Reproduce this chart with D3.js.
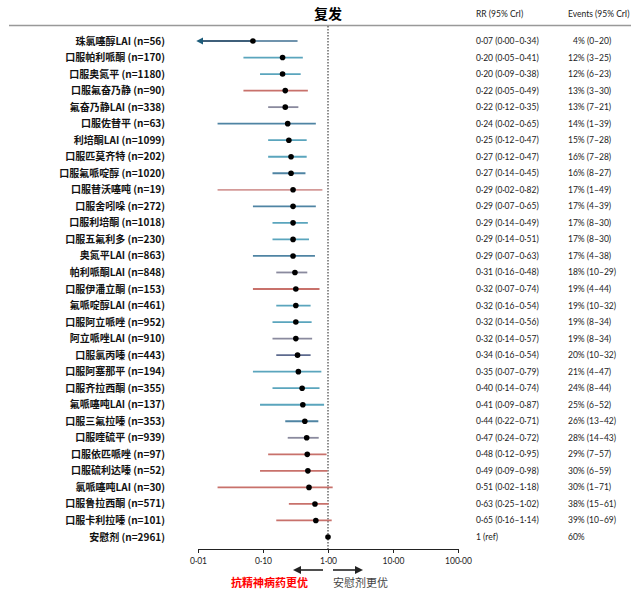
<!DOCTYPE html>
<html><head><meta charset="utf-8">
<script src="https://cdn.jsdelivr.net/npm/d3@7"></script>
<style>body{margin:0;background:#fff}</style>
</head><body>
<svg id="c" width="641" height="594"></svg>
<script>
const drugs = ["珠氯噻醇LAI","口服帕利哌酮","口服奥氮平","口服氟奋乃静","氟奋乃静LAI","口服佐替平","利培酮LAI","口服匹莫齐特","口服氟哌啶醇","口服替沃噻吨","口服舍吲哚","口服利培酮","口服五氟利多","奥氮平LAI","帕利哌酮LAI","口服伊潘立酮","氟哌啶醇LAI","口服阿立哌唑","阿立哌唑LAI","口服氯丙嗪","口服阿塞那平","口服齐拉西酮","氟哌噻吨LAI","口服三氟拉嗪","口服喹硫平","口服依匹哌唑","口服硫利达嗪","氯哌噻吨LAI","口服鲁拉西酮","口服卡利拉嗪","安慰剂"];
const nVals = [56,170,1180,90,338,63,1099,202,1020,19,272,1018,230,863,848,153,461,952,910,443,194,355,137,353,939,97,52,30,571,101,2961];
const rr   = [0.07,0.20,0.20,0.22,0.22,0.24,0.25,0.27,0.27,0.29,0.29,0.29,0.29,0.29,0.31,0.32,0.32,0.32,0.32,0.34,0.35,0.40,0.41,0.44,0.47,0.48,0.49,0.51,0.63,0.65,1];
const rrLo = [0.00,0.05,0.09,0.05,0.12,0.02,0.12,0.12,0.14,0.02,0.07,0.14,0.14,0.07,0.16,0.07,0.16,0.14,0.14,0.16,0.07,0.14,0.09,0.22,0.24,0.12,0.09,0.02,0.25,0.16,null];
const rrHi = [0.34,0.41,0.38,0.49,0.35,0.65,0.47,0.47,0.45,0.82,0.65,0.49,0.51,0.63,0.48,0.74,0.54,0.56,0.57,0.54,0.79,0.74,0.87,0.71,0.72,0.95,0.98,1.18,1.02,1.14,null];
const evt   = [4,12,12,13,13,14,15,16,16,17,17,17,17,17,18,19,19,19,19,20,21,24,25,26,28,29,30,30,38,39,60];
const evtLo = [0,3,6,3,7,1,7,7,8,1,4,8,8,4,10,4,10,8,8,10,4,8,6,13,14,7,6,1,15,10,null];
const evtHi = [20,25,23,30,21,39,28,28,27,49,39,30,30,38,29,44,32,34,34,32,47,44,52,42,43,57,59,71,61,69,null];
const colorGroup = ["navy","teal","teal","red","grey","steel","teal","teal","steel","pink","steel","teal","teal","steel","grey","red","teal","teal","grey","navy","teal","teal","teal","steel","grey","red","red","red","red","red","none"];
const tickVals = [0.01,0.1,1,10,100];
const tickLabels = ["0·01","0·10","1·00","10·00","100·00"];

const color = d3.scaleOrdinal()
  .domain(["teal","red","pink","grey","steel","navy","none"])
  .range(["#5aa5bd","#c8716b","#d49a98","#8a8a9e","#4f84a3","#5d6a8e","#000"]);

const svg = d3.select("#c");
const x = d3.scaleLog().domain([0.01,100]).range([198,458]);
const y = d3.scaleLinear().domain([0, drugs.length-1]).range([41,537]);
const dot = v => v.toFixed(2).replace(".","·");

// header
svg.append("text").attr("x",328).attr("y",19).attr("text-anchor","middle")
  .attr("font-family","Noto Sans CJK SC").attr("font-weight","bold").attr("font-size",14).text("复发");
svg.append("line").attr("x1",9).attr("x2",631).attr("y1",25.5).attr("y2",25.5).attr("stroke","#999").attr("stroke-width",1.3);
svg.append("text").attr("x",476).attr("y",17).attr("font-family","Lato, sans-serif").attr("font-size",8.5).attr("fill","#222").text("RR (95% CrI)");
svg.append("text").attr("x",568).attr("y",17).attr("font-family","Lato, sans-serif").attr("font-size",8.5).attr("fill","#222").text("Events (95% CrI)");

// reference dotted line
svg.append("line").attr("x1",x(1)).attr("x2",x(1)).attr("y1",26).attr("y2",549)
  .attr("stroke","#444").attr("stroke-width",1.2).attr("stroke-dasharray","1.5,1.5");

// axis
const axis = d3.axisBottom(x).tickValues(tickVals).tickFormat((d,i)=>tickLabels[i]).tickSize(4);
const ag = svg.append("g").attr("transform","translate(0,549)").call(axis);
ag.select(".domain").attr("stroke","#222");
ag.selectAll(".tick line").attr("stroke","#222");
ag.selectAll("text").attr("font-family","Lato, sans-serif").attr("font-size",8.5).attr("fill","#222").attr("dy","0.9em");

// arrow markers
const defs = svg.append("defs");
defs.append("marker").attr("id","arrL").attr("viewBox","0 0 10 10").attr("refX",2).attr("refY",5)
  .attr("markerWidth",4).attr("markerHeight",4).attr("orient","auto-start-reverse")
  .append("path").attr("d","M0,0 L10,5 L0,10 z").attr("fill","#1d5c7a");
defs.append("marker").attr("id","arrB").attr("viewBox","0 0 10 10").attr("refX",5).attr("refY",5)
  .attr("markerWidth",5).attr("markerHeight",5).attr("orient","auto")
  .append("path").attr("d","M0,0 L10,5 L0,10 z").attr("fill","#222");

const rows = drugs.map((d,i)=>({d,i,n:nVals[i],rr:rr[i],lo:rrLo[i],hi:rrHi[i],e:evt[i],el:evtLo[i],eh:evtHi[i],g:colorGroup[i]}));

const g = svg.append("g");
rows.forEach(r=>{
  const yy = y(r.i);
  if (r.lo !== null) {
    if (r.lo < 0.01) {
      g.append("line").attr("x1",x(r.rr)).attr("x2",x(r.hi)).attr("y1",yy).attr("y2",yy)
        .attr("stroke","#6f93ad").attr("stroke-width",1.8);
      g.append("line").attr("x1",x(r.rr)).attr("x2",x(0.01)+4).attr("y1",yy).attr("y2",yy)
        .attr("stroke","#3f5f7a").attr("stroke-width",1.8).attr("marker-end","url(#arrL)");
    } else {
      g.append("line").attr("x1",x(r.lo)).attr("x2",x(r.hi)).attr("y1",yy).attr("y2",yy)
        .attr("stroke",color(r.g)).attr("stroke-width",1.8);
    }
  }
  g.append("circle").attr("cx",x(r.rr)).attr("cy",yy).attr("r",2.8).attr("fill","#000");
  // label
  g.append("text").attr("x",165).attr("y",yy).attr("dy","0.35em").attr("text-anchor","end")
    .attr("font-family","Noto Sans CJK SC").attr("font-weight","bold").attr("font-size",10).attr("fill","#111")
    .text(r.d + " (n=" + r.n + ")");
  const rrTxt = r.lo === null ? "1 (ref)" : dot(r.rr)+" ("+dot(r.lo)+"–"+dot(r.hi)+")";
  g.append("text").attr("x",476).attr("y",yy).attr("dy","0.35em")
    .attr("font-family","Lato, sans-serif").attr("font-size",8.5).attr("fill","#222").text(rrTxt);
  const eTxt = r.el === null ? r.e+"%" : r.e+"% ("+r.el+"–"+r.eh+")";
  g.append("text").attr("x", r.e < 10 ? 573 : 568).attr("y",yy).attr("dy","0.35em")
    .attr("font-family","Lato, sans-serif").attr("font-size",8.5).attr("fill","#222").text(eTxt);
});

// direction arrows
svg.append("line").attr("x1",323).attr("x2",297).attr("y1",570).attr("y2",570)
  .attr("stroke","#222").attr("stroke-width",1.6).attr("marker-end","url(#arrB)");
svg.append("line").attr("x1",333).attr("x2",359).attr("y1",570).attr("y2",570)
  .attr("stroke","#222").attr("stroke-width",1.6).attr("marker-end","url(#arrB)");
svg.append("text").attr("x",308).attr("y",587).attr("text-anchor","end")
  .attr("font-family","Noto Sans CJK SC").attr("font-weight","bold").attr("font-size",11).attr("fill","#f00").text("抗精神病药更优");
svg.append("text").attr("x",333).attr("y",587)
  .attr("font-family","Noto Sans CJK SC").attr("font-size",11).attr("fill","#444").text("安慰剂更优");
</script>
</body></html>
